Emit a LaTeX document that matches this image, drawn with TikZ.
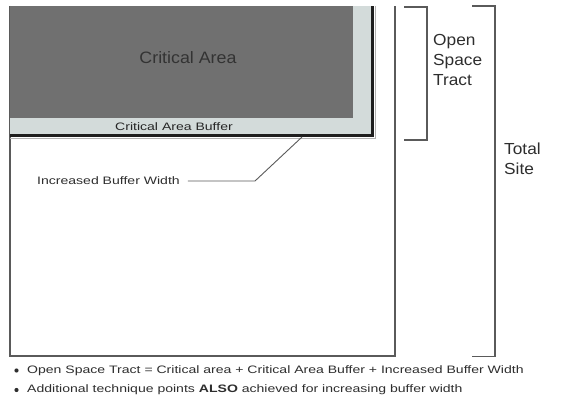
\documentclass[tikz,border=0pt]{standalone}
\usepackage{fontspec}
\setmainfont{Liberation Sans}
\newfontfamily\widefont[FakeStretch=1.3]{Liberation Sans}
\newfontfamily\midfont[FakeStretch=1.08]{Liberation Sans}
\definecolor{critfill}{HTML}{707070}
\definecolor{buffill}{HTML}{D3DBDA}
\definecolor{darkedge}{HTML}{1E1E1E}
\definecolor{linegray}{HTML}{5A5A5A}
\definecolor{txt}{HTML}{2E2E2E}
\tikzset{
  lbl/.style={inner sep=0pt, text=txt},
  smalltxt/.style={lbl, font=\widefont\fontsize{10.8}{13}\selectfont},
  bigtxt/.style={lbl, font=\midfont\fontsize{16}{20}\selectfont, align=left},
  bracketline/.style={draw=linegray, line width=1.6pt},
}
\begin{document}
\begin{tikzpicture}[x=1pt,y=-1pt]
\useasboundingbox (0,0) rectangle (571,401);
\fill[white] (0,0) rectangle (571,401);
% total site rectangle (top cut off)
\draw[draw=linegray, line width=1.5pt] (10,6) -- (10,356) -- (395,356) -- (395,6);
% buffer with dark edge
\fill[buffill] (10,6) rectangle (372,135);
\draw[darkedge, line width=3.2pt] (10,135.5) -- (372.5,135.5) -- (372.5,6);
\draw[gray!60, line width=0.8pt] (10,138.5) -- (375.5,138.5) -- (375.5,6);
% critical area
\fill[critfill] (10,6) rectangle (353,118);
\node[lbl, font=\midfont\fontsize{16.5}{20}\selectfont, text=black!80] (ca) at (188,58) {Critical Area};
\node[smalltxt, text=black!85] (cab) at (174,126.5) {Critical Area Buffer};
% leader
\node[smalltxt, anchor=west] (ibw) at (37,180.5) {Increased Buffer Width};
\coordinate (l1) at (302,137);
\coordinate (l2) at (255,181);
\draw[linegray, line width=0.9pt] (l1) -- (l2) -- ([xshift=8pt]ibw.east |- l2);
% open space bracket
\draw[bracketline] (404,7) -- (427,7) -- (427,140) -- (404,140);
\node[bigtxt, anchor=north west] (ost) at (433,34) {Open\\Space\\Tract};
% total site bracket
\draw[bracketline] (472,6) -- (495,6) -- (495,356.5) -- (472,356.5);
\node[bigtxt, anchor=north west] (ts) at (504,143) {Total\\Site};
% notes
\node[circle, fill=txt, minimum size=4.2pt, inner sep=0pt] (b1) at (16.5,370.5) {};
\node[circle, fill=txt, minimum size=4.2pt, inner sep=0pt] (b2) at (16.5,390) {};
\node[smalltxt, anchor=west] (n1) at (27,370.5) {Open Space Tract = Critical area + Critical Area Buffer + Increased Buffer Width};
\node[smalltxt, anchor=west] (n2) at (27,390) {Additional technique points \textbf{ALSO} achieved for increasing buffer width};
\end{tikzpicture}
\end{document}
